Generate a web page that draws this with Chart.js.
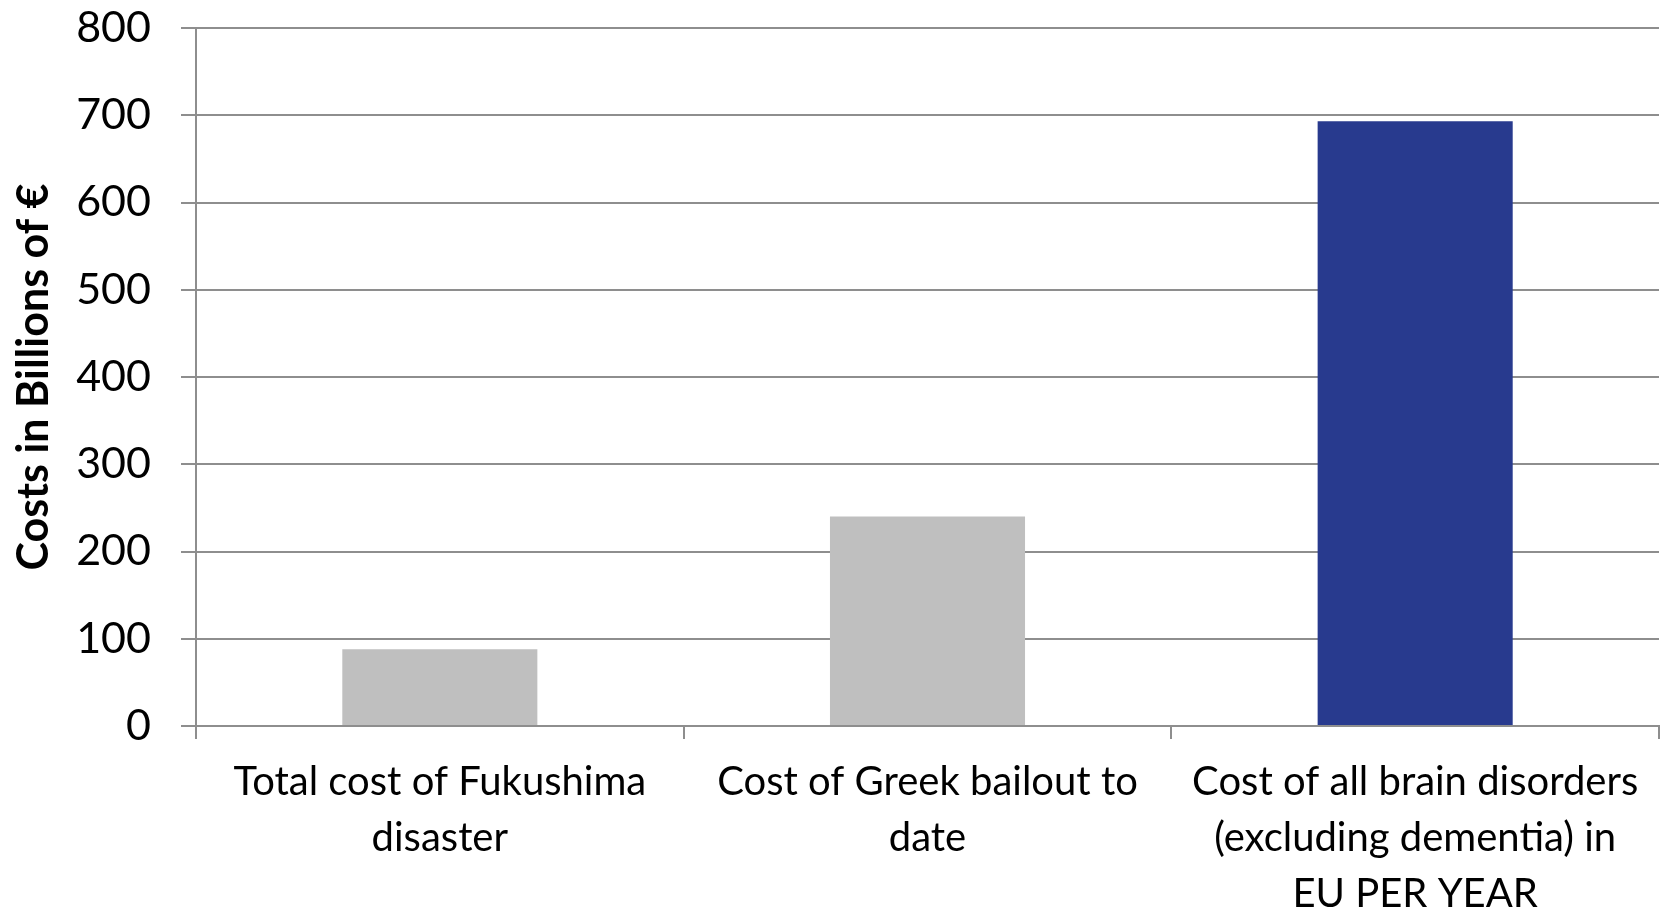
<!DOCTYPE html>
<html>
<head>
<meta charset="utf-8">
<script src="https://cdn.jsdelivr.net/npm/chart.js@4"></script>
<style>
    html, body { margin: 0; padding: 0; background: #fff; }
    #wrap { width: 1662px; height: 913px; }
</style>
</head>
<body>
<div id="wrap"><canvas id="costChart"></canvas></div>
<script>
// Chart data
const categories = [
    ['Total cost of Fukushima', 'disaster'],
    ['Cost of Greek bailout to', 'date'],
    ['Cost of all brain disorders', '(excluding dementia) in', 'EU PER YEAR']
];
const costs = [88, 240, 693]; // billions of euro
const yTicks = [0, 100, 200, 300, 400, 500, 600, 700, 800];

const barColors = ['#bfbfbf', '#bfbfbf', '#283a8e'];
const lineColor = '#8e8e8e';
const fontFamily = 'Lato, "Open Sans", sans-serif';

const ctx = document.getElementById('costChart').getContext('2d');
new Chart(ctx, {
    type: 'bar',
    data: {
        labels: categories,
        datasets: [{
            label: 'Costs',
            data: costs,
            backgroundColor: barColors,
            borderWidth: 0,
            categoryPercentage: 1.0,
            barPercentage: 0.4
        }]
    },
    options: {
        responsive: true,
        maintainAspectRatio: false,
        animation: false,
        layout: {
            padding: { left: 0, right: 3, top: 28, bottom: 0 }
        },
        plugins: {
            legend: { display: false },
            tooltip: { enabled: false }
        },
        scales: {
            x: {
                offset: true,
                grid: {
                    offset: true,
                    drawOnChartArea: false,
                    drawTicks: true,
                    tickLength: 13,
                    color: lineColor,
                    lineWidth: 2
                },
                border: { color: lineColor, width: 2 },
                ticks: {
                    color: '#000',
                    font: { family: fontFamily, size: 40, lineHeight: 1.4 },
                    padding: 15,
                    maxRotation: 0,
                    autoSkip: false
                },
                afterFit(scale) {
                    scale.height = 187; // room for three label lines
                }
            },
            y: {
                min: 0,
                max: 800,
                afterBuildTicks(scale) {
                    scale.ticks = yTicks.map(v => ({ value: v }));
                },
                grid: {
                    color: lineColor,
                    lineWidth: 2,
                    tickLength: 15
                },
                border: { color: lineColor, width: 2 },
                ticks: {
                    color: '#000',
                    font: { family: fontFamily, size: 43 },
                    padding: 30
                },
                title: {
                    display: true,
                    text: 'Costs in Billions of €',
                    color: '#000',
                    font: { family: fontFamily, size: 43, weight: 'bold' },
                    padding: { top: 8, bottom: 6 }
                },
                afterFit(scale) {
                    scale.width = 196;
                    scale.paddingTop = 0; // let the top gridline sit near the edge
                    scale.paddingBottom = 0;
                }
            }
        }
    }
});
</script>
</body>
</html>
